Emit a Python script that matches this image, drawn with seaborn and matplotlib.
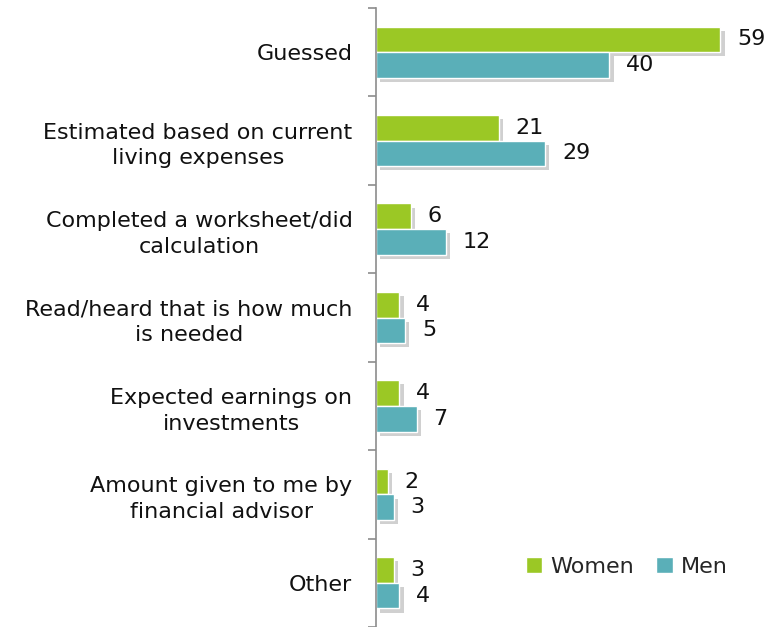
import numpy as np
import pandas as pd
import matplotlib
matplotlib.use("Agg")
import matplotlib.pyplot as plt
import matplotlib.patheffects as pe
import seaborn as sns

# data
categories = ["Guessed",
              "Estimated based on current\nliving expenses",
              "Completed a worksheet/did\ncalculation",
              "Read/heard that is how much\nis needed",
              "Expected earnings on\ninvestments",
              "Amount given to me by\nfinancial advisor",
              "Other"]
women = [59, 21, 6, 4, 4, 2, 3]
men = [40, 29, 12, 5, 7, 3, 4]

df = pd.DataFrame({
    "reason": categories * 2,
    "value": women + men,
    "group": ["Women"] * len(women) + ["Men"] * len(men),
})

sns.set_style("white")
plt.rcParams["font.family"] = ["DejaVu Sans"]

fig = plt.figure(figsize=(7.77, 6.27), dpi=100)
ax = fig.add_axes([376 / 777, 0, 1 - 376 / 777, 1 - 8 / 627])

sns.barplot(data=df, y="reason", x="value", hue="group", orient="h",
            palette={"Women": "#9BC825", "Men": "#5AAFB8"},
            width=0.58, ax=ax, saturation=1)

ax.legend(loc="center", bbox_to_anchor=(0.625, 0.097), ncol=2, frameon=False,
          fontsize=16, handlelength=0.75, handleheight=0.75, columnspacing=1.0,
          handletextpad=0.35, borderpad=0)

# soft drop shadow on the bars only
for c in ax.containers:
    for p in c:
        p.set_path_effects([pe.SimplePatchShadow(offset=(3, -3), alpha=0.25, shadow_rgbFace="#444444"),
                            pe.Normal()])
    ax.bar_label(c, padding=12, fontsize=16, color="#111111")

ax.set_xlim(0, 68.7)
ax.set_ylim(6.45, -0.5)
ax.set_xlabel("")
ax.set_ylabel("")
ax.set_xticks([])

# tick marks between categories, labels at centres
ax.set_yticks(np.arange(-0.5, 7, 1))
ax.set_yticklabels([])
ax.set_yticks(np.arange(len(categories)), minor=True)
ax.set_yticklabels(categories, minor=True, fontsize=16, ha="right",
                   multialignment="center", color="#111111", linespacing=1.35)
ax.tick_params(axis="y", which="major", left=True, length=6, width=1.2,
               color="#8c8c8c", direction="out")
ax.tick_params(axis="y", which="minor", left=True, length=0, pad=17)

for s in ["top", "right", "bottom"]:
    ax.spines[s].set_visible(False)
ax.spines["left"].set_color("#8c8c8c")
ax.spines["left"].set_linewidth(1.2)

fig.savefig("out.png", dpi=100)
